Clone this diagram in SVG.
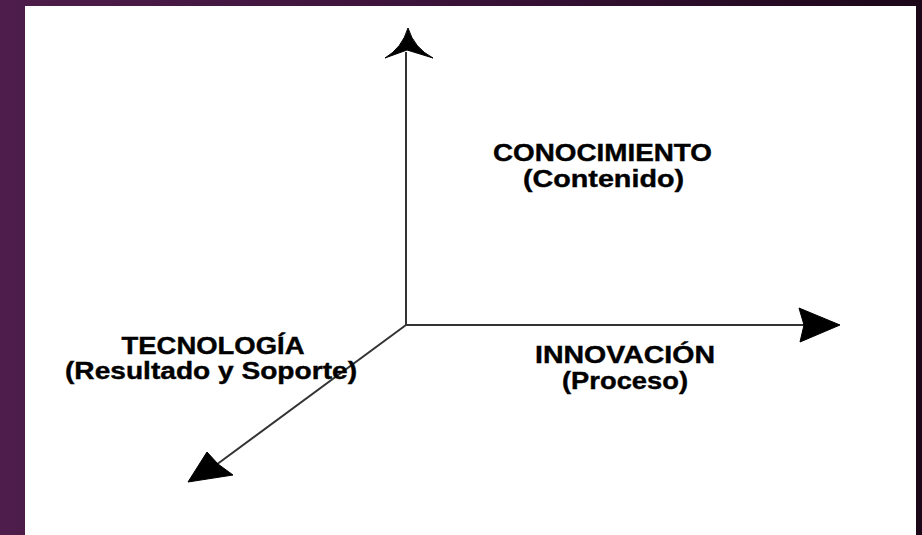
<svg xmlns="http://www.w3.org/2000/svg" width="922" height="535" viewBox="0 0 922 535">
  <defs>
    <linearGradient id="bg" x1="0" y1="0" x2="1" y2="0">
      <stop offset="0" stop-color="#4e1d4b"/>
      <stop offset="0.5" stop-color="#3a1238"/>
      <stop offset="1" stop-color="#1c0719"/>
    </linearGradient>
    <style>
      .axis { stroke: #333; stroke-width: 2; fill: none; }
      .head { fill: #000; stroke: #000; stroke-width: 1; stroke-linejoin: round; }
      .lbl { font-family: "Liberation Sans", Arial, sans-serif; font-weight: bold; font-size: 24px; fill: #000; stroke: #000; stroke-width: 0.4; text-anchor: middle; }
    </style>
  </defs>
  <rect x="0" y="0" width="922" height="535" fill="url(#bg)"/>
  <rect x="25" y="6" width="891" height="529" fill="#ffffff"/>

  <g id="connectors">
    <line class="axis" x1="406" y1="325" x2="406" y2="52"/>
    <line class="axis" x1="406" y1="325" x2="804" y2="325"/>
    <line class="axis" x1="406" y1="325" x2="216" y2="465"/>
    <path class="head" d="M408,28 Q414,48 433,58 L407,50 L385,58 Q402,48 408,28 Z"/>
    <path class="head" d="M840,325 L799,308 L804,325 L800,342 Z"/>
    <path class="head" d="M188,482 L207,452 L218,464 L233,475 Z"/>
  </g>

  <g id="conocimiento">
    <text class="lbl" x="602.5" y="160.5" textLength="219" lengthAdjust="spacingAndGlyphs">CONOCIMIENTO</text>
    <text class="lbl" x="603.5" y="186.5" textLength="161" lengthAdjust="spacingAndGlyphs">(Contenido)</text>
  </g>
  <g id="tecnologia">
    <text class="lbl" x="213" y="353.5" textLength="183" lengthAdjust="spacingAndGlyphs">TECNOLOGÍA</text>
    <text class="lbl" x="211" y="379" textLength="292" lengthAdjust="spacingAndGlyphs">(Resultado y Soporte)</text>
  </g>
  <g id="innovacion">
    <text class="lbl" x="625" y="363" textLength="180" lengthAdjust="spacingAndGlyphs">INNOVACIÓN</text>
    <text class="lbl" x="625" y="389" textLength="126" lengthAdjust="spacingAndGlyphs">(Proceso)</text>
  </g>
</svg>
